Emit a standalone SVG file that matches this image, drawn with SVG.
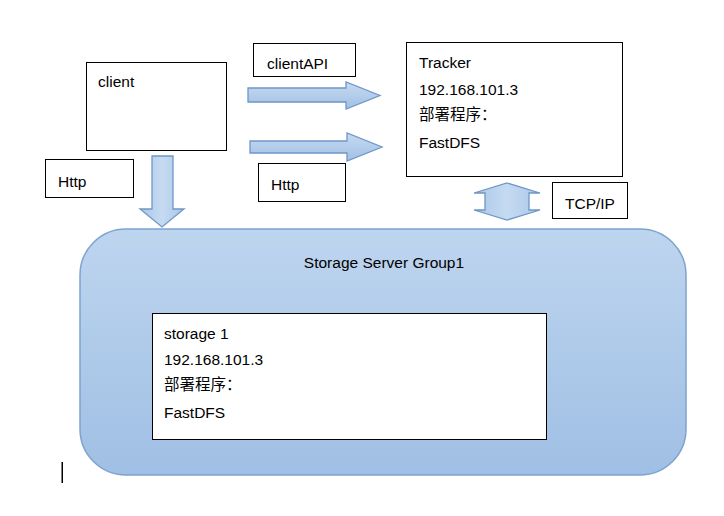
<svg xmlns="http://www.w3.org/2000/svg" width="724" height="516" viewBox="0 0 724 516">
<defs>
<linearGradient id="gGroup" x1="0" y1="0" x2="0" y2="1">
<stop offset="0" stop-color="#bed5ef"/>
<stop offset="1" stop-color="#9fbfe4"/>
</linearGradient>
<linearGradient id="gArrH" x1="0" y1="0" x2="0" y2="1">
<stop offset="0" stop-color="#c5daf1"/>
<stop offset="1" stop-color="#a2c0e4"/>
</linearGradient>
<linearGradient id="gArrV" x1="0" y1="0" x2="1" y2="0">
<stop offset="0" stop-color="#a9c6e8"/>
<stop offset="0.5" stop-color="#c6dbf2"/>
<stop offset="1" stop-color="#a9c6e8"/>
</linearGradient>
</defs>
<style>
.box{fill:#ffffff;stroke:#000000;stroke-width:1}
.t{font-family:"Liberation Sans","Noto Sans CJK SC",sans-serif;font-size:15.5px;fill:#000000}
.arrH{fill:url(#gArrH);stroke:#6f97c6;stroke-width:1.3}
.arrV{fill:url(#gArrV);stroke:#6f97c6;stroke-width:1.3}
</style>
<rect width="724" height="516" fill="#ffffff"/>

<g id="storage-group">
<rect x="80" y="229" width="606" height="246" rx="46" ry="46" fill="url(#gGroup)" stroke="#7ea3cf" stroke-width="1.5"/>
<text class="t" x="384" y="268" text-anchor="middle">Storage Server Group1</text>
</g>

<g id="storage1">
<rect class="box" x="152.5" y="313.5" width="394" height="126"/>
<text class="t" x="164" y="339">storage 1</text>
<text class="t" x="164" y="365">192.168.101.3</text>
<text class="t" x="164" y="390">部署程序：</text>
<text class="t" x="164" y="418">FastDFS</text>
</g>

<g id="client">
<rect class="box" x="86.5" y="62.5" width="140" height="88"/>
<text class="t" x="98" y="87">client</text>
</g>

<g id="tracker">
<rect class="box" x="406.5" y="42.5" width="216" height="134"/>
<text class="t" x="419" y="68">Tracker</text>
<text class="t" x="419" y="95">192.168.101.3</text>
<text class="t" x="419" y="120">部署程序：</text>
<text class="t" x="419" y="148">FastDFS</text>
</g>

<g id="label-clientAPI">
<rect class="box" x="253.5" y="43.5" width="102" height="33"/>
<text class="t" x="267" y="69">clientAPI</text>
</g>

<g id="label-http-left">
<rect class="box" x="45.5" y="159.5" width="88" height="38"/>
<text class="t" x="58" y="187">Http</text>
</g>

<g id="label-http-right">
<rect class="box" x="258.5" y="163.5" width="87" height="38"/>
<text class="t" x="271" y="190">Http</text>
</g>

<g id="label-tcpip">
<rect class="box" x="552.5" y="182.5" width="75" height="36"/>
<text class="t" x="565" y="209">TCP/IP</text>
</g>

<g id="connectors">
<path class="arrH" d="M248,88 L346,88 L346,82 L380,95.5 L346,109 L346,102 L248,102 Z"/>
<path class="arrH" d="M250,141 L347,141 L347,133 L382,147 L347,161 L347,153 L250,153 Z"/>
<path class="arrV" d="M152,156 L173,156 L173,209 L184,209 L162,227 L140,209 L152,209 Z"/>
<path class="arrV" d="M507,183 L540,193 L529,193 L529,210 L540,210 L507,220 L474,210 L485,210 L485,193 L474,193 Z"/>
</g>

<rect x="61.5" y="462" width="1.5" height="21" fill="#000000"/>
</svg>
